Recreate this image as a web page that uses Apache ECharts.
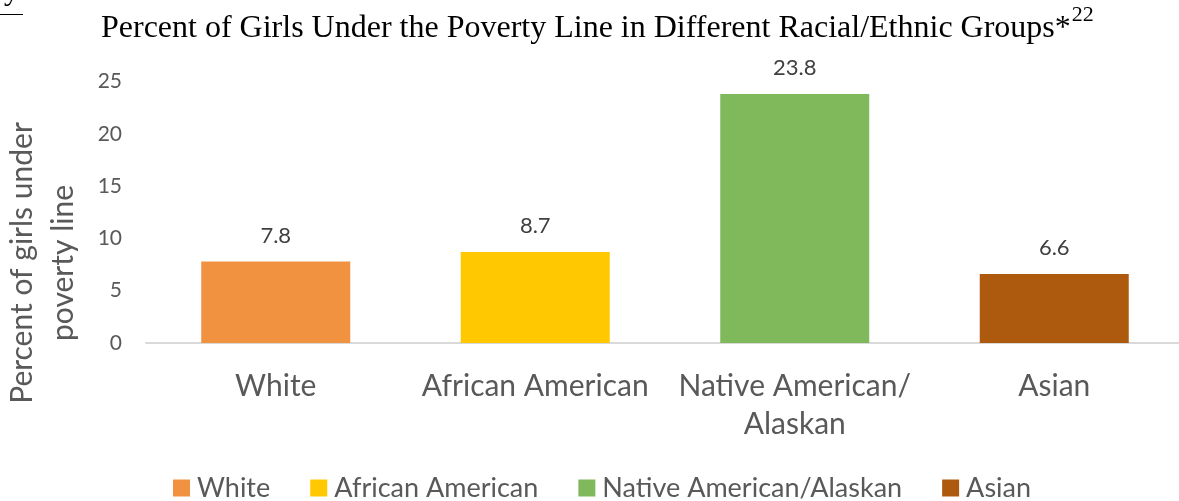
<!DOCTYPE html>
<html>
<head>
<meta charset="utf-8">
<script src="https://cdn.jsdelivr.net/npm/echarts@6/dist/echarts.min.js"></script>
<style>html,body{margin:0;padding:0;background:#fff;}#c{width:1179px;height:501px;}</style>
</head>
<body>
<div id="c"></div>
<script>
var categories = ['White', 'African American', 'Native American/\nAlaskan', 'Asian'];
var seriesNames = ['White', 'African American', 'Native American/Alaskan', 'Asian'];
var values = [7.8, 8.7, 23.8, 6.6];
var colors = ['#F19240', '#FFC800', '#80B95B', '#AE5A0E'];
var yMin = 0, yMax = 25, yStep = 5;
var titleText = 'Percent of Girls Under the Poverty Line in Different Racial/Ethnic Groups*';
var titleSup = '22';
var yName = 'Percent of girls under\npoverty line';

var sans = 'Lato';
var serif = 'Liberation Serif';
var titleLeft = 101, titleSize = 32;
var mctx = document.createElement('canvas').getContext('2d');
mctx.font = titleSize + 'px "' + serif + '"';
var titleW = mctx.measureText(titleText).width;

var chart = echarts.init(document.getElementById('c'), null, {renderer: 'canvas'});
var series = seriesNames.map(function (name, i) {
  return {
    name: name,
    type: 'bar',
    stack: 'all',
    barWidth: 149,
    itemStyle: {color: colors[i]},
    label: {show: true, position: 'top', distance: 15, color: '#404040', fontFamily: sans, fontSize: 22},
    data: values.map(function (v, j) { return j === i ? v : '-'; })
  };
});
chart.setOption({
  animation: false,
  title: {
    text: titleText,
    left: titleLeft, top: 10, padding: 0,
    textStyle: {fontFamily: serif, fontSize: titleSize, fontWeight: 'normal', color: '#000', lineHeight: 38}
  },
  legend: {
    left: 173, top: 470, padding: 0,
    itemWidth: 17, itemHeight: 17, itemGap: 40,
    icon: 'rect',
    textStyle: {color: '#595959', fontFamily: sans, fontSize: 27, lineHeight: 28, padding: [8, 0, 0, 2]},
    data: seriesNames
  },
  grid: {left: 146, top: 81.5, width: 1038, height: 261.5, outerBoundsMode: 'none', containLabel: false},
  xAxis: {
    type: 'category',
    data: categories,
    axisLine: {lineStyle: {color: '#D9D9D9', width: 2}},
    axisTick: {show: false},
    axisLabel: {color: '#595959', fontFamily: sans, fontSize: 30, lineHeight: 38, margin: 24, interval: 0}
  },
  yAxis: {
    type: 'value', min: yMin, max: yMax, interval: yStep,
    axisLine: {show: false}, axisTick: {show: false},
    splitLine: {show: false},
    axisLabel: {color: '#595959', fontFamily: sans, fontSize: 21, margin: 24, padding: [4, 0, 0, 0]}
  },
  graphic: [
    {
      type: 'text', x: titleLeft + titleW + 1, y: 4,
      style: {text: titleSup, fontFamily: serif, fontSize: 22, fill: '#000', align: 'left', verticalAlign: 'top'}
    },
    {
      type: 'text', x: 43, y: 263, rotation: Math.PI / 2,
      style: {text: yName, fontFamily: sans, fontSize: 30, lineHeight: 41, fill: '#595959', align: 'center', verticalAlign: 'middle'}
    },
    {
      type: 'line', shape: {x1: 0, y1: 14.5, x2: 23, y2: 14.5}, style: {stroke: '#000', lineWidth: 1}
    },
    {
      type: 'text', x: 4, y: 7,
      style: {text: 'y', fontFamily: serif, fontSize: 30, fill: '#000', align: 'left', verticalAlign: 'bottom'}
    }
  ],
  series: series
});
</script>
</body>
</html>
